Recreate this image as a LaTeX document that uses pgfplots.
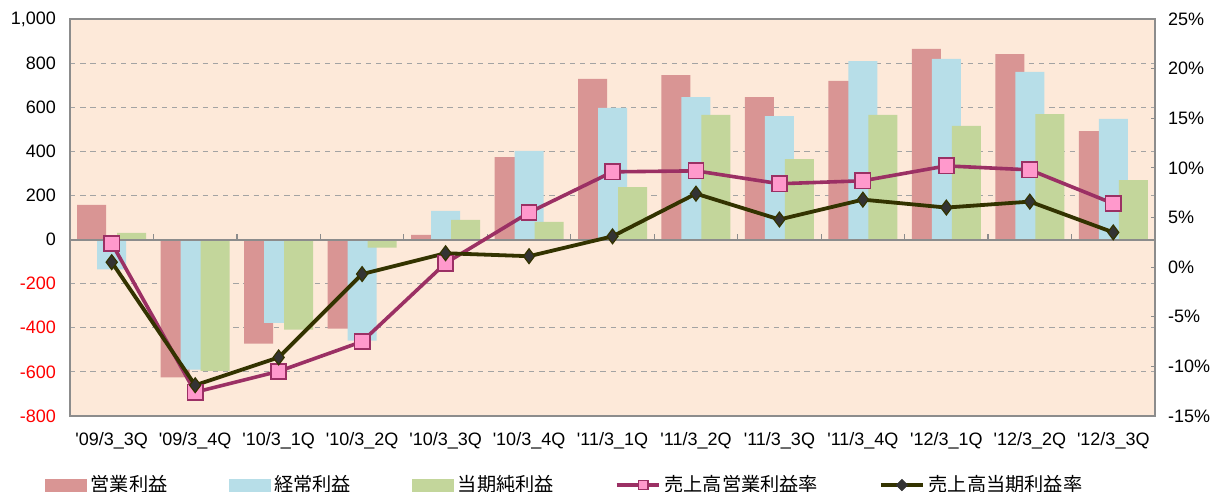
\documentclass[border=0pt]{standalone}
\usepackage{fontspec}
\setmainfont{Liberation Sans}
\newfontfamily\jp{Noto Sans CJK JP}
\usepackage{pgfplots}
\pgfplotsset{compat=1.18}

\definecolor{bgc}{HTML}{FDE9D9}
\definecolor{redc}{HTML}{D99594}
\definecolor{bluec}{HTML}{B7DEE8}
\definecolor{greenc}{HTML}{C3D69B}
\definecolor{pinkline}{HTML}{9B3064}
\definecolor{pinkfill}{HTML}{FF99CC}
\definecolor{darkline}{HTML}{333300}
\definecolor{frame}{HTML}{8C8C8C}

\pgfplotsset{
  base/.style={
    scale only axis, width=542.5pt, height=198.5pt,
    at={(0,0)}, anchor=south west,
    xmin=-0.5, xmax=12.5,
    tick label style={font=\fontsize{9}{11}\selectfont},
    /pgf/number format/assume math mode=true,
  },
}

\begin{document}
\begin{tikzpicture}
\useasboundingbox (-35pt,-38pt) rectangle (577.5pt,208pt);

% bars, left axis
\begin{axis}[base,
  ymin=-800, ymax=1000,
  axis background/.style={fill=bgc},
  axis line style={frame, line width=1pt},
  xtick={0,...,12},
  xticklabels={
    \textquotesingle09/3\_3Q,\textquotesingle09/3\_4Q,\textquotesingle10/3\_1Q,
    \textquotesingle10/3\_2Q,\textquotesingle10/3\_3Q,\textquotesingle10/3\_4Q,
    \textquotesingle11/3\_1Q,\textquotesingle11/3\_2Q,\textquotesingle11/3\_3Q,
    \textquotesingle11/3\_4Q,\textquotesingle12/3\_1Q,\textquotesingle12/3\_2Q,
    \textquotesingle12/3\_3Q},
  xticklabel style={yshift=-4.5pt},
  ytick={-800,-600,...,1000},
  yticklabels={\textcolor{red}{-800},\textcolor{red}{-600},\textcolor{red}{-400},
    \textcolor{red}{-200},0,200,400,600,800,{1,000}},
  yticklabel style={xshift=-3.5pt},
  ytick pos=left,
  major tick length=0pt,
  ymajorgrids,
  y grid style={frame!80, line width=0.5pt, dash pattern=on 2.7pt off 2.4pt},
  bar width=14.5pt,
]
% 営業利益
\addplot[ybar, bar shift=-10pt, fill=redc, draw=none] coordinates {
(0,157) (1,-625) (2,-472) (3,-404) (4,21) (5,374) (6,728)
(7,746) (8,646) (9,719) (10,864) (11,841) (12,492)
};
% 経常利益
\addplot[ybar, bar shift=0pt, fill=bluec, draw=none] coordinates {
(0,-135) (1,-590) (2,-378) (3,-458) (4,130) (5,402) (6,597)
(7,646) (8,560) (9,809) (10,819) (11,760) (12,547)
};
% 当期純利益
\addplot[ybar, bar shift=10pt, fill=greenc, draw=none] coordinates {
(0,30) (1,-595) (2,-408) (3,-37) (4,89) (5,80) (6,238)
(7,565) (8,365) (9,565) (10,515) (11,569) (12,270)
};
\draw[frame, line width=1pt] (axis cs:-0.5,0) -- (axis cs:12.5,0);
\pgfplotsinvokeforeach{0.5,1.5,2.5,3.5,4.5,5.5,6.5,7.5,8.5,9.5,10.5,11.5}{
  \draw[frame, line width=0.6pt] (axis cs:#1,0) -- (axis cs:#1,27);
}
\end{axis}

% ratio lines, right axis
\begin{axis}[base,
  ymin=-15, ymax=25,
  axis x line=none,
  axis y line*=right,
  axis line style={frame, line width=1pt},
  ytick={-15,-10,...,25},
  yticklabels={-15\%,-10\%,-5\%,0\%,5\%,10\%,15\%,20\%,25\%},
  yticklabel style={xshift=3pt},
  major tick length=2pt,
  tick style={frame, line width=0.6pt},
  legend style={
    at={(-0.029,-0.174)}, anchor=west, draw=none, fill=none,
    legend columns=5, font=\jp\fontsize{9.6}{11}\selectfont,
    /tikz/every even column/.append style={column sep=28.5pt},
  },
  legend cell align=left,
]
\addlegendimage{legend image code/.code={\fill[redc] (0pt,-3pt) rectangle (20.5pt,3pt);}}
\addlegendentry{営業利益}
\addlegendimage{legend image code/.code={\fill[bluec] (0pt,-3pt) rectangle (20.5pt,3pt);}}
\addlegendentry{経常利益}
\addlegendimage{legend image code/.code={\fill[greenc] (0pt,-3pt) rectangle (20.5pt,3pt);}}
\addlegendentry{当期純利益}
\addlegendimage{legend image code/.code={
  \draw[pinkline, line width=1.8pt] (0pt,0pt) -- (21pt,0pt);
  \node[draw=pinkline, fill=pinkfill, line width=0.6pt, minimum size=4.8pt, inner sep=0pt] at (10.5pt,0pt) {};}}
\addlegendentry{売上高営業利益率}
\addlegendimage{legend image code/.code={
  \draw[darkline, line width=1.8pt] (0pt,0pt) -- (21pt,0pt);
  \fill[black!80] (10.5pt,-2.8pt) -- (13.3pt,0pt) -- (10.5pt,2.8pt) -- (7.7pt,0pt) -- cycle;}}
\addlegendentry{売上高当期利益率}

% 売上高営業利益率
\addplot[forget plot, pinkline, line width=1.8pt, mark=square*,
  mark size=3.8pt, mark options={fill=pinkfill, draw=pinkline, line width=0.8pt}] coordinates {
(0,2.4) (1,-12.6) (2,-10.5) (3,-7.5) (4,0.4) (5,5.5) (6,9.6)
(7,9.7) (8,8.4) (9,8.7) (10,10.2) (11,9.8) (12,6.4)
};
% 売上高当期利益率
\addplot[forget plot, darkline, line width=1.9pt, mark=diamond*,
  mark size=3.7pt, mark options={fill=black!80, draw=darkline, line width=0.6pt}] coordinates {
(0,0.5) (1,-11.9) (2,-9.1) (3,-0.7) (4,1.4) (5,1.1) (6,3.1)
(7,7.4) (8,4.8) (9,6.8) (10,6.0) (11,6.6) (12,3.5)
};
\end{axis}
\end{tikzpicture}
\end{document}
